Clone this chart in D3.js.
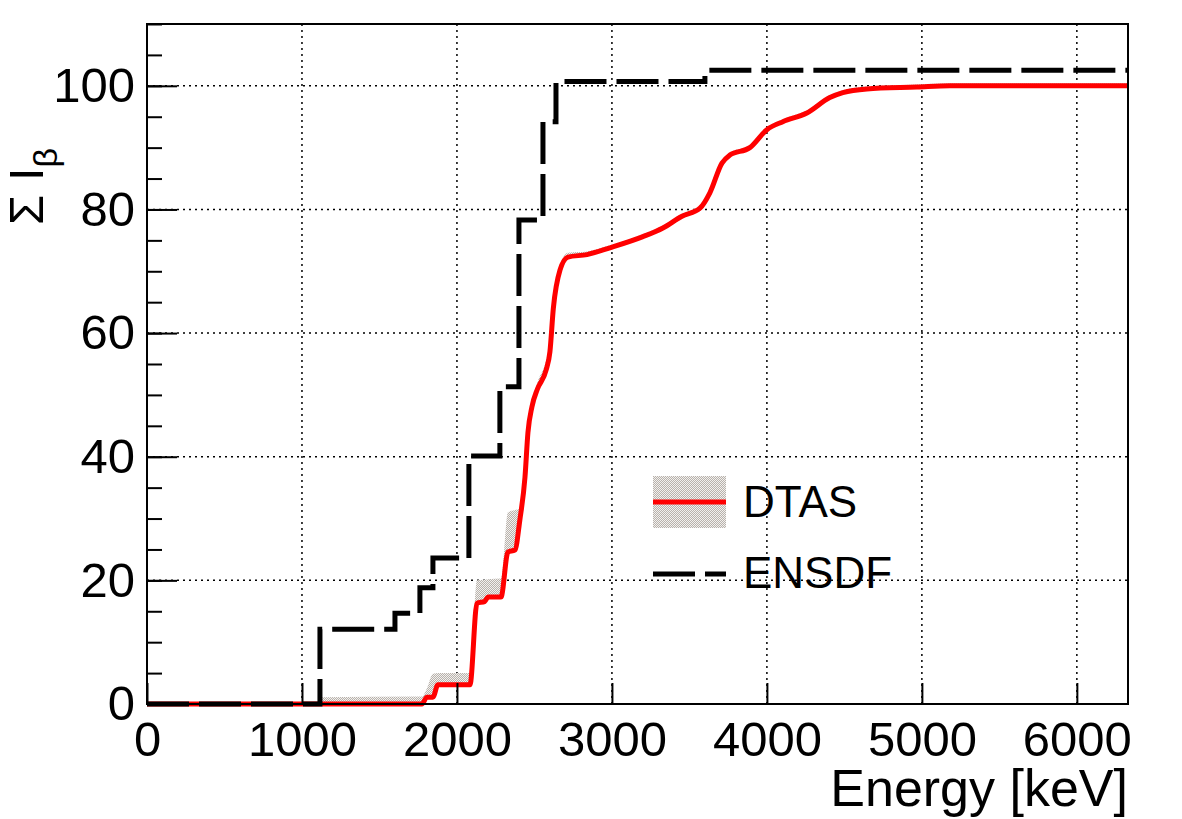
<!DOCTYPE html>
<html>
<head>
<meta charset="utf-8">
<script src="https://cdn.jsdelivr.net/npm/d3@7"></script>
<style>
  body { margin: 0; background: #fff; }
  text { font-family: "Liberation Sans", Arial, sans-serif; fill: #000; }
</style>
</head>
<body>
<div id="chart"></div>
<script>
// cumulative beta intensity vs level energy
const ensdfE = [0, 1116, 1600, 1761, 1845, 2077, 2277, 2400, 2555, 2639, 3600, 6330];
const ensdfI = [0, 12.1, 14.7, 18.8, 23.6, 40.1, 51.3, 78.3, 94.2, 100.7, 102.5, 102.5];

const dtasE = [0, 1100, 1116, 1774, 1806, 1845, 1877, 2084, 2129, 2180, 2200, 2284, 2329, 2374,
  2406, 2439, 2458, 2484, 2520, 2575, 2600, 2622, 2665, 2716, 2839, 2987, 3200, 3329, 3452,
  3568, 3632, 3710, 3761, 3890, 4000, 4103, 4258, 4406, 4490, 4645, 4968, 5181, 6330];
const dtasI = [0, 0, 0, 0, 1.1, 1.1, 3.1, 3.1, 16.3, 16.6, 17.3, 17.3, 24.6, 24.9,
  29.8, 36.7, 43.9, 48.1, 51.0, 54.0, 57.0, 64.0, 70.2, 72.3, 72.7, 73.8, 75.6, 77.0, 78.9,
  80.2, 82.7, 87.5, 88.8, 90.0, 92.9, 94.2, 95.6, 98.1, 98.9, 99.5, 99.8, 100, 100];
// upper edge of the DTAS error band
const dtasHi = [0, 0, 1.1, 1.2, 2.5, 4.9, 5.0, 5.0, 20.0, 20.1, 20.2, 20.3, 31.0, 31.4,
  31.6, 37.5, 44.6, 49.0, 52.1, 55.5, 58.5, 65.0, 71.0, 73.0, 73.2, 74.2, 76.0, 77.4, 79.3,
  80.6, 83.1, 87.9, 89.2, 90.4, 93.3, 94.6, 96.0, 98.5, 99.3, 99.9, 100.2, 100.4, 100.4];

const xTicks = [0, 1000, 2000, 3000, 4000, 5000, 6000];
const yTicks = [0, 20, 40, 60, 80, 100];
const yMinor = d3.range(0, 111, 5);

const W = 1182, H = 819;
const m = { left: 147, top: 24, right: 54, bottom: 115 };
const iw = W - m.left - m.right;
const ih = H - m.top - m.bottom;

const svg = d3.select("#chart").append("svg").attr("width", W).attr("height", H);

const defs = svg.append("defs");
const pat = defs.append("pattern")
  .attr("id", "hatch").attr("width", 2).attr("height", 2)
  .attr("patternUnits", "userSpaceOnUse");
pat.append("rect").attr("width", 2).attr("height", 2).attr("fill", "#f2f0ee");
pat.append("rect").attr("width", 1).attr("height", 1).attr("fill", "#b8b2ac");
pat.append("rect").attr("x", 1).attr("y", 1).attr("width", 1).attr("height", 1).attr("fill", "#b8b2ac");

const g = svg.append("g").attr("transform", `translate(${m.left},${m.top})`);

const x = d3.scaleLinear().domain([0, 6330]).range([0, iw]);
const y = d3.scaleLinear().domain([0, 110]).range([ih, 0]);

// grid
g.append("g").selectAll("line").data(xTicks.slice(1)).join("line")
  .attr("x1", d => x(d)).attr("x2", d => x(d)).attr("y1", 0).attr("y2", ih)
  .attr("stroke", "#000").attr("stroke-width", 1.5).attr("stroke-dasharray", "2,4");
g.append("g").selectAll("line").data(yTicks.slice(1)).join("line")
  .attr("x1", 0).attr("x2", iw).attr("y1", d => y(d)).attr("y2", d => y(d))
  .attr("stroke", "#000").attr("stroke-width", 1.5).attr("stroke-dasharray", "2,4");

const dtas = dtasE.map((e, i) => ({ e, v: dtasI[i], hi: dtasHi[i] }));
const ensdf = ensdfE.map((e, i) => ({ e, v: ensdfI[i] }));

g.append("path").datum(dtas.filter(d => d.e >= 1100))
  .attr("fill", "url(#hatch)")
  .attr("d", d3.area().curve(d3.curveMonotoneX)
    .x(d => x(d.e)).y0(d => y(d.v)).y1(d => y(d.hi)));

g.append("path").datum(dtas)
  .attr("fill", "none").attr("stroke", "#ff0000").attr("stroke-width", 5)
  .attr("d", d3.line().curve(d3.curveMonotoneX).x(d => x(d.e)).y(d => y(d.v)));

g.append("path").datum(ensdf)
  .attr("fill", "none").attr("stroke", "#000").attr("stroke-width", 5)
  .attr("stroke-dasharray", "42,10")
  .attr("d", d3.line().curve(d3.curveStepAfter).x(d => x(d.e)).y(d => y(d.v)));

// axes
const xAxis = g.append("g").attr("transform", `translate(0,${ih})`)
  .call(d3.axisBottom(x).tickValues(xTicks).tickSize(-21).tickPadding(17).tickFormat(d3.format("d")));
const yAxis = g.append("g")
  .call(d3.axisLeft(y).tickValues(yTicks).tickSize(-30).tickPadding(12).tickFormat(d3.format("d")));
const yAxisMinor = g.append("g")
  .call(d3.axisLeft(y).tickValues(yMinor).tickSize(-15).tickFormat(""));

[xAxis, yAxis, yAxisMinor].forEach(a => {
  a.select(".domain").remove();
  a.selectAll("line").attr("stroke", "#000").attr("stroke-width", 2);
  a.selectAll("text").attr("font-size", 49).attr("font-family", "Liberation Sans, Arial, sans-serif");
});

g.append("rect").attr("width", iw).attr("height", ih)
  .attr("fill", "none").attr("stroke", "#000").attr("stroke-width", 2);

// titles
svg.append("text").attr("x", m.left + iw).attr("y", 806)
  .attr("text-anchor", "end").attr("font-size", 52).text("Energy [keV]");

const yt = svg.append("text").attr("transform", "translate(43,225) rotate(-90)")
  .attr("font-size", 49);
yt.append("tspan").text("Σ I");
yt.append("tspan").attr("font-size", 34).attr("dy", 14).text("β");

// legend
const lg = svg.append("g").attr("transform", "translate(653,476)");
lg.append("rect").attr("width", 73).attr("height", 52).attr("fill", "url(#hatch)");
lg.append("line").attr("x1", 0).attr("x2", 73).attr("y1", 26).attr("y2", 26)
  .attr("stroke", "#ff0000").attr("stroke-width", 5);
lg.append("text").attr("x", 90).attr("y", 41).attr("font-size", 44).text("DTAS");
lg.append("line").attr("x1", 0).attr("x2", 73).attr("y1", 98).attr("y2", 98)
  .attr("stroke", "#000").attr("stroke-width", 5).attr("stroke-dasharray", "42,10");
lg.append("text").attr("x", 90).attr("y", 112).attr("font-size", 44).text("ENSDF");
</script>
</body>
</html>
